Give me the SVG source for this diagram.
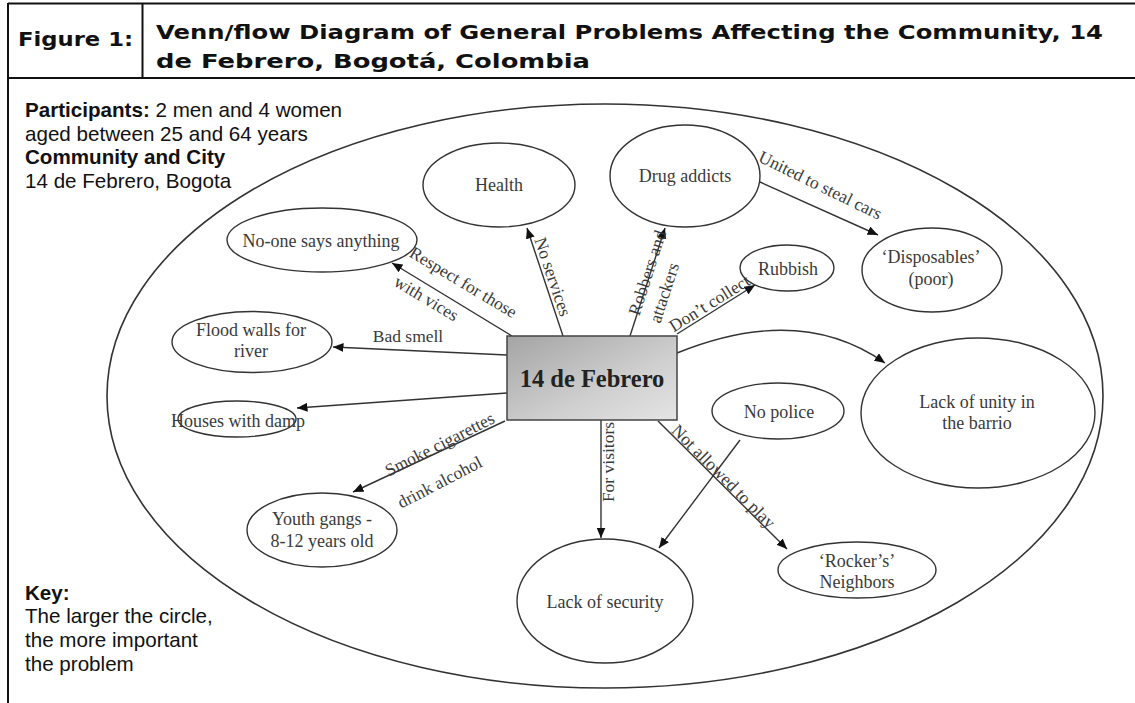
<svg xmlns="http://www.w3.org/2000/svg" width="1135" height="703" viewBox="0 0 1135 703">
<style>
.frame{stroke:#111;stroke-width:2;fill:none}
.title{font-family:"DejaVu Sans","Verdana",sans-serif;font-weight:bold;font-size:20px;fill:#111}
.side{font-family:"Liberation Sans",Arial,sans-serif;font-size:20.6px;fill:#111}
.side .b{font-weight:bold}
.node ellipse{fill:none;stroke:#333;stroke-width:1.4}
.ntxt{font-family:"Liberation Serif","Times New Roman",serif;font-size:18px;fill:#3a3a3a;text-anchor:middle}
.lbl{font-family:"Liberation Serif","Times New Roman",serif;font-size:17.5px;fill:#3a3a3a;text-anchor:middle}
.conn path,.conn line{stroke:#333;stroke-width:1.4;fill:none;marker-end:url(#ah)}
.boxtxt{font-family:"Liberation Serif","Times New Roman",serif;font-weight:bold;font-size:24.5px;fill:#222;text-anchor:middle}
</style>
<defs>
<marker id="ah" markerWidth="11" markerHeight="9" refX="10.5" refY="4.5" orient="auto" markerUnits="userSpaceOnUse">
<path d="M0,0 L10.5,4.5 L0,9 z" fill="#111"/>
</marker>
<linearGradient id="boxg" x1="0" y1="0" x2="1" y2="1">
<stop offset="0" stop-color="#a4a4a4"/>
<stop offset="0.6" stop-color="#cfcfcf"/>
<stop offset="1" stop-color="#e4e4e4"/>
</linearGradient>
</defs>
<rect width="1135" height="703" fill="#fff"/>

<g id="header">
<line class="frame" x1="8" y1="3.5" x2="1135" y2="3.5"/>
<line class="frame" x1="8" y1="78" x2="1135" y2="78"/>
<line class="frame" x1="142.5" y1="3.5" x2="142.5" y2="78"/>
<line class="frame" x1="8" y1="3" x2="8" y2="703"/>
<text class="title" x="18" y="46" textLength="115" lengthAdjust="spacingAndGlyphs">Figure 1:</text>
<text class="title" x="156" y="39" textLength="947" lengthAdjust="spacingAndGlyphs">Venn/flow Diagram of General Problems Affecting the Community, 14</text>
<text class="title" x="156" y="68" textLength="434" lengthAdjust="spacingAndGlyphs">de Febrero, Bogotá, Colombia</text>
</g>

<g id="info" class="side">
<text x="25" y="117"><tspan class="b">Participants:</tspan> 2 men and 4 women</text>
<text x="25" y="140.5">aged between 25 and 64 years</text>
<text x="25" y="164" class="b">Community and City</text>
<text x="25" y="187.5">14 de Febrero, Bogota</text>
</g>

<g id="key" class="side">
<text x="25" y="600" class="b">Key:</text>
<text x="25" y="623">The larger the circle,</text>
<text x="25" y="647">the more important</text>
<text x="25" y="671">the problem</text>
</g>

<g id="community" class="node"><ellipse cx="605" cy="396" rx="498" ry="292" style="stroke-width:1.6"/></g>

<g id="connectors" class="conn">
<line x1="512" y1="336" x2="392" y2="263"/>
<line x1="563" y1="336" x2="527" y2="228"/>
<line x1="630" y1="336" x2="665" y2="228"/>
<line x1="677" y1="334" x2="755" y2="285"/>
<line x1="760" y1="182" x2="878" y2="235"/>
<path d="M677,353 Q800,303 885,363"/>
<line x1="507" y1="355" x2="333" y2="347"/>
<line x1="507" y1="393" x2="297" y2="408"/>
<line x1="505" y1="421" x2="353" y2="492"/>
<line x1="601" y1="420" x2="601" y2="538"/>
<line x1="658" y1="421" x2="787" y2="549"/>
<line x1="740" y1="440" x2="659" y2="548"/>
</g>

<g id="labels">
<text class="lbl" transform="translate(463,283) rotate(31)" y="5">Respect for those</text>
<text class="lbl" transform="translate(426,299) rotate(31)" y="5">with vices</text>
<text class="lbl" x="408" y="342">Bad smell</text>
<text class="lbl" transform="translate(552,277) rotate(71.5)" y="5">No services</text>
<text class="lbl" transform="translate(648,273) rotate(-72)" y="5">Robbers and</text>
<text class="lbl" transform="translate(665,293) rotate(-72)" y="5">attackers</text>
<text class="lbl" transform="translate(710,304) rotate(-32)" y="5">Don’t collect</text>
<text class="lbl" transform="translate(820,186) rotate(26)" y="5">United to steal cars</text>
<text class="lbl" transform="translate(440,445) rotate(-27)" y="5">Smoke cigarettes</text>
<text class="lbl" transform="translate(440,483) rotate(-27.5)" y="5">drink alcohol</text>
<text class="lbl" transform="translate(609,462) rotate(-90)" y="5">For visitors</text>
<text class="lbl" transform="translate(723,477) rotate(45)" y="5">Not allowed to play</text>
</g>

<g id="center">
<rect x="507" y="336" width="170" height="84" fill="url(#boxg)" stroke="#444" stroke-width="1.5"/>
<text class="boxtxt" x="592" y="387">14 de Febrero</text>
</g>

<g id="health" class="node"><ellipse cx="499" cy="185" rx="76" ry="42"/><text class="ntxt" x="499" y="191">Health</text></g>
<g id="drug-addicts" class="node"><ellipse cx="685" cy="176" rx="75" ry="51"/><text class="ntxt" x="685" y="182">Drug addicts</text></g>
<g id="disposables" class="node"><ellipse cx="932" cy="270" rx="70" ry="42"/><text class="ntxt" x="931" y="263">‘Disposables’</text><text class="ntxt" x="931" y="285">(poor)</text></g>
<g id="rubbish" class="node"><ellipse cx="787" cy="268" rx="47" ry="23"/><text class="ntxt" x="788" y="275">Rubbish</text></g>
<g id="no-one" class="node"><ellipse cx="322" cy="240" rx="95" ry="32"/><text class="ntxt" x="321" y="247">No-one says anything</text></g>
<g id="flood-walls" class="node"><ellipse cx="252" cy="342" rx="80" ry="30.5"/><text class="ntxt" x="251" y="336">Flood walls for</text><text class="ntxt" x="251" y="357">river</text></g>
<g id="houses" class="node"><ellipse cx="237" cy="419" rx="59" ry="18"/><text class="ntxt" x="238" y="427">Houses with damp</text></g>
<g id="lack-of-unity" class="node"><ellipse cx="978" cy="413" rx="117" ry="75"/><text class="ntxt" x="977" y="408">Lack of unity in</text><text class="ntxt" x="977" y="429">the barrio</text></g>
<g id="no-police" class="node"><ellipse cx="778" cy="411" rx="66" ry="28"/><text class="ntxt" x="779" y="418">No police</text></g>
<g id="youth-gangs" class="node"><ellipse cx="322" cy="530" rx="75" ry="37"/><text class="ntxt" x="322" y="525">Youth gangs -</text><text class="ntxt" x="322" y="547">8-12 years old</text></g>
<g id="lack-of-security" class="node"><ellipse cx="605" cy="601" rx="88" ry="62"/><text class="ntxt" x="605" y="608">Lack of security</text></g>
<g id="rockers" class="node"><ellipse cx="857" cy="570" rx="79" ry="28"/><text class="ntxt" x="857" y="567">‘Rocker’s’</text><text class="ntxt" x="857" y="588">Neighbors</text></g>
</svg>
